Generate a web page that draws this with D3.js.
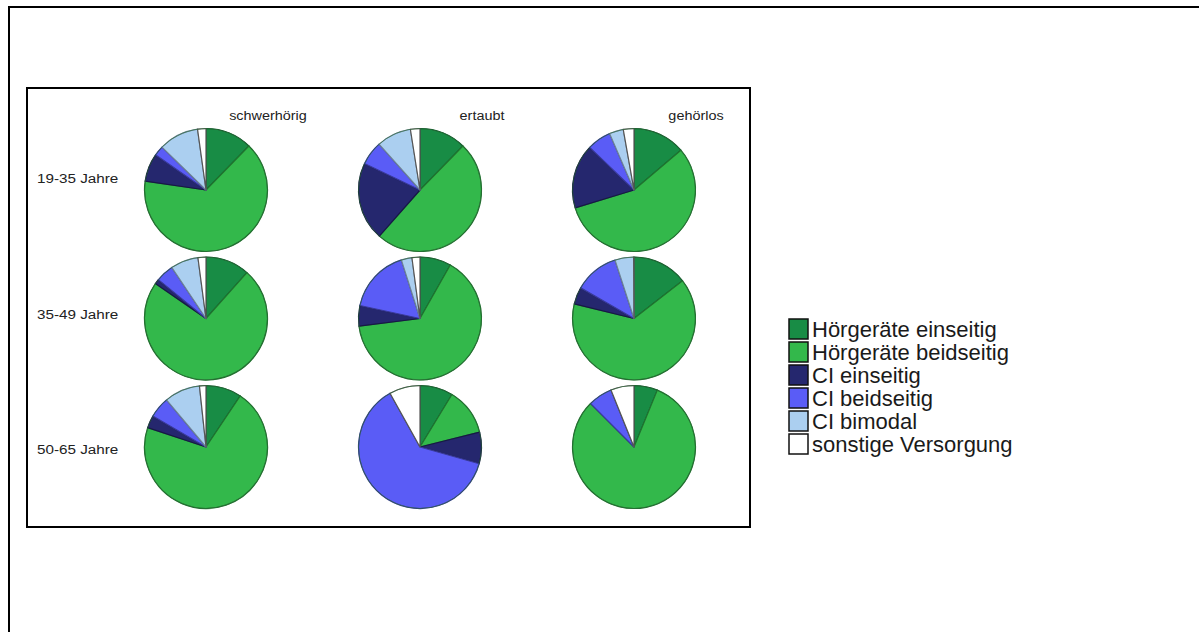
<!DOCTYPE html>
<html><head><meta charset="utf-8">
<script src="https://cdn.jsdelivr.net/npm/d3@7"></script>
<style>
body{margin:0;background:#fff;}
svg{display:block;font-family:"Liberation Sans",Arial,sans-serif;}
</style></head>
<body><svg id="c" width="1199" height="632"></svg>
<script>
const categories = ["Hörgeräte einseitig","Hörgeräte beidseitig","CI einseitig","CI beidseitig","CI bimodal","sonstige Versorgung"];
const colors = ["#188c45","#33b84b","#25276e","#5a5cf6","#abcff0","#ffffff"];
const groups = ["schwerhörig","ertaubt","gehörlos"];
const ageGroups = ["19-35 Jahre","35-49 Jahre","50-65 Jahre"];
// values per age group (rows) and hearing group (columns), order as categories
const row1 = [
  [12.3, 65.0, 7.4, 2.6, 10.5, 2.2],
  [12.3, 49.2, 20.6, 6.3, 9.1, 2.5],
  [13.8, 56.5, 16.9, 6.3, 3.7, 2.8]
];
const row2 = [
  [11.6, 73.0, 1.3, 4.7, 7.3, 2.1],
  [8.2, 64.8, 5.4, 16.7, 2.8, 2.1],
  [14.5, 64.3, 4.5, 11.7, 4.9, 0.1]
];
const row3 = [
  [9.4, 70.7, 3.3, 5.5, 9.4, 1.7],
  [8.7, 12.4, 8.3, 62.5, 0.0, 8.1],
  [6.2, 81.3, 0.0, 6.4, 0.0, 6.1]
];
const rows = [row1, row2, row3];

const svg = d3.select("#c");
// outer frame
svg.append("rect").attr("x",9).attr("y",7).attr("width",1199).attr("height",640)
  .attr("fill","none").attr("stroke","#000").attr("stroke-width",2);
// inner frame
svg.append("rect").attr("x",27).attr("y",88).attr("width",723).attr("height",439)
  .attr("fill","#fff").attr("stroke","#000").attr("stroke-width",2);

const xCol = d3.scalePoint().domain(groups).range([206,634]);
const yRow = d3.scalePoint().domain(ageGroups).range([190,447]);
const yLab = d3.scalePoint().domain(ageGroups).range([183,454]);
const color = d3.scaleOrdinal().domain(categories).range(colors);
const R = 61.5;
const pie = d3.pie().sort(null).value(d=>d.v);
const arc = d3.arc().innerRadius(0).outerRadius(R);

function stretch(sel, f){
  sel.each(function(){
    const w = this.getComputedTextLength();
    d3.select(this).attr("textLength", w*f).attr("lengthAdjust","spacingAndGlyphs");
  });
}

// column titles
svg.selectAll("text.col").data(groups).join("text").attr("class","col")
  .attr("x",d=>xCol(d)+62).attr("y",120).attr("text-anchor","middle")
  .attr("font-size",12).attr("fill","#222").text(d=>d).call(stretch,1.2);
// row labels
svg.selectAll("text.row").data(ageGroups).join("text").attr("class","row")
  .attr("x",37).attr("y",d=>yLab(d)).attr("font-size",12).attr("fill","#222")
  .text(d=>d).call(stretch,1.27);

rows.forEach((row,ri)=>{
  row.forEach((vals,ci)=>{
    const g = svg.append("g").attr("transform",`translate(${xCol(groups[ci])},${yRow(ageGroups[ri])})`);
    const data = pie(vals.map((v,i)=>({k:categories[i],v})));
    g.selectAll("path").data(data.filter(d=>d.data.v>0)).join("path")
      .attr("d",arc).attr("fill",d=>color(d.data.k))
      .attr("stroke",d=>d.data.k===categories[5]?"#555":d3.color(color(d.data.k)).darker(1.3))
      .attr("stroke-width",1.2).attr("stroke-linejoin","round");
    g.append("circle").attr("r",R).attr("fill","none").attr("stroke","#2a6a35").attr("stroke-width",1).attr("stroke-opacity",0.6);
  });
});

// legend
const yLeg = d3.scalePoint().domain(categories).range([329,444]);
const leg = svg.selectAll("g.leg").data(categories).join("g").attr("class","leg")
  .attr("transform",d=>`translate(788,${yLeg(d)})`);
leg.append("rect").attr("x",1).attr("y",-10).attr("width",19).attr("height",20)
  .attr("fill",d=>color(d)).attr("stroke","#111").attr("stroke-width",1.5);
leg.append("text").attr("x",24).attr("y",8).attr("font-size",22).attr("fill","#1a1a1a").text(d=>d);
</script></body></html>
